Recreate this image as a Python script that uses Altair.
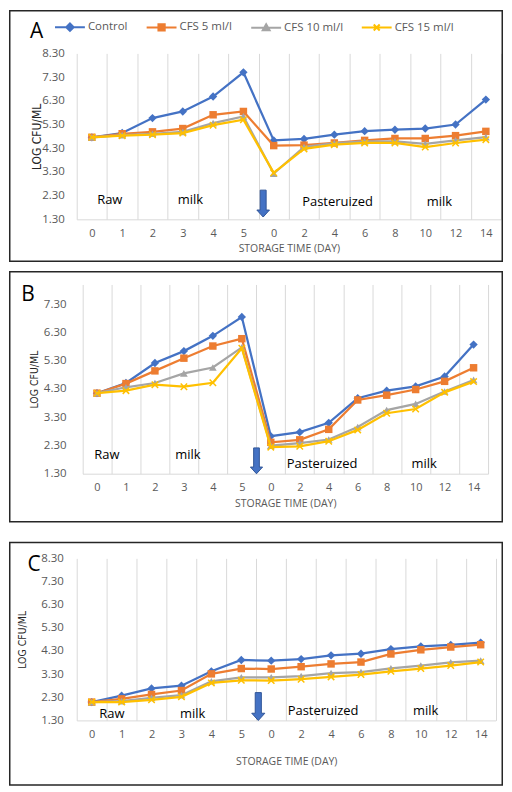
import altair as alt
import pandas as pd

# ---------------- data ----------------
series = ["Control", "CFS 5 ml/l", "CFS 10 ml/l", "CFS 15 ml/l"]
colors = ["#4472C4", "#ED7D31", "#A5A5A5", "#FFC000"]
day_labels = ["0", "1", "2", "3", "4", "5", "0", "2", "4", "6", "8", "10", "12", "14"]
y_ticks = [1.3, 2.3, 3.3, 4.3, 5.3, 6.3, 7.3, 8.3]
y_ticks_b = [1.3, 2.3, 3.3, 4.3, 5.3, 6.3, 7.3]

a_control = [4.76, 4.94, 5.57, 5.85, 6.48, 7.50, 4.63, 4.69, 4.87, 5.02, 5.08, 5.13, 5.30, 6.35]
a_cfs5 = [4.76, 4.91, 4.99, 5.13, 5.71, 5.85, 4.41, 4.43, 4.52, 4.63, 4.71, 4.71, 4.83, 5.01]
a_cfs10 = [4.76, 4.85, 4.91, 4.99, 5.36, 5.64, 3.23, 4.35, 4.52, 4.59, 4.59, 4.48, 4.63, 4.77]
a_cfs15 = [4.76, 4.83, 4.87, 4.94, 5.27, 5.50, 3.26, 4.27, 4.45, 4.52, 4.52, 4.35, 4.52, 4.66]

b_control = [4.15, 4.51, 5.22, 5.64, 6.18, 6.85, 2.63, 2.77, 3.10, 3.97, 4.24, 4.39, 4.74, 5.87]
b_cfs5 = [4.15, 4.49, 4.94, 5.39, 5.82, 6.08, 2.41, 2.50, 2.87, 3.91, 4.08, 4.28, 4.57, 5.05]
b_cfs10 = [4.15, 4.36, 4.51, 4.85, 5.06, 5.77, 2.29, 2.38, 2.51, 2.95, 3.55, 3.77, 4.21, 4.62]
b_cfs15 = [4.15, 4.24, 4.45, 4.38, 4.52, 5.74, 2.24, 2.27, 2.45, 2.85, 3.44, 3.59, 4.18, 4.56]

c_control = [2.09, 2.37, 2.68, 2.80, 3.42, 3.91, 3.88, 3.95, 4.11, 4.18, 4.38, 4.50, 4.56, 4.66]
c_cfs5 = [2.09, 2.23, 2.42, 2.59, 3.31, 3.54, 3.52, 3.62, 3.74, 3.82, 4.17, 4.35, 4.47, 4.57]
c_cfs10 = [2.09, 2.13, 2.27, 2.39, 2.99, 3.16, 3.16, 3.21, 3.34, 3.39, 3.55, 3.67, 3.81, 3.88]
c_cfs15 = [2.09, 2.09, 2.19, 2.32, 2.92, 3.03, 3.02, 3.08, 3.18, 3.28, 3.42, 3.54, 3.67, 3.82]

phase_texts = ["Raw", "milk", "Pasteruized", "milk"]

# ---------------- styles ----------------
FONT = "Open Sans"
NARROW = "Liberation Sans Narrow, DejaVu Sans Condensed, Roboto"
GRAY = "#595959"
GRID = "#D9D9D9"

X_PATH = "M-1,-1L1,1M-1,1L1,-1"
markers = [
    dict(shape="diamond", filled=True, size=70),
    dict(shape="square", filled=True, size=56),
    dict(shape="triangle-up", filled=True, size=60),
    dict(shape=X_PATH, filled=False, size=42, strokeWidth=1.5),
]
legend_paths = [
    "M-2,0H2M0,-0.5L0.5,0L0,0.5L-0.5,0Z",
    "M-2,0H2M-0.42,-0.42H0.42V0.42H-0.42Z",
    "M-2,0H2M0,-0.48L0.46,0.34H-0.46Z",
    "M-2,0H2M-0.4,-0.4L0.4,0.4M-0.4,0.4L0.4,-0.4",
]
ARROW = "M-0.22,-1H0.22V0.48H0.47L0,1L-0.47,0.48H-0.22Z"

one = alt.Data(values=[{"k": 0}])


def panel(vals, p, with_legend=False):
    rows = []
    for s, arr in zip(series, vals):
        for i, v in enumerate(arr):
            rows.append({"idx": i, "series": s, "value": v})
    df = pd.DataFrame(rows)
    base = alt.Chart(df)

    x = alt.X(
        "idx:O",
        bandPosition=0.5,
        scale=alt.Scale(
            type="band",
            domain=list(range(len(day_labels))),
            range=[p["x0"], p["W"]],
            paddingInner=0,
            paddingOuter=0,
        ),
        axis=alt.Axis(
            title="STORAGE TIME (DAY)",
            labelExpr=f"{day_labels}[datum.value]",
            labelAngle=0,
            ticks=False,
            tickSize=0,
            domain=True,
            domainColor=GRID,
            domainWidth=1,
            grid=True,
            gridColor=GRID,
            gridWidth=1,
            tickBand="extent",
            labelPadding=p["xlab_pad"],
            labelFont=FONT,
            labelFontSize=11,
            labelColor=GRAY,
            titleFont=FONT,
            titleFontSize=10.5,
            titleFontWeight="normal",
            titleColor=GRAY,
            titleX=(p["x0"] + p["W"]) / 2,
            titleY=p["xtitle_y"],
            titleBaseline="middle",
        ),
    )
    y = alt.Y(
        "value:Q",
        scale=alt.Scale(domain=[1.3, p["ymax"]], nice=False, zero=False),
        axis=alt.Axis(
            values=p["ticks"],
            format=".2f",
            grid=False,
            ticks=False,
            tickSize=0,
            domain=False,
            labelPadding=p["ylab_pad"],
            labelFont=FONT,
            labelFontSize=11.5,
            labelColor=GRAY,
            title="LOG CFU/ML",
            titleFont=NARROW,
            titleFontSize=p["ytitle_size"],
            titleFontWeight="normal",
            titleColor="#262626",
            titleAngle=270,
            titleX=p["ytitle_x"],
            titleY=p["H"] / 2,
            titleBaseline="middle",
        ),
    )

    cx0, cx1, cy0, cy1 = p["cell"]
    bx0, bx1, by0, by1 = p["border"]
    layers = [
        alt.Chart(one).mark_rect(opacity=0).encode(
            x=alt.value(cx0), x2=alt.value(cx1), y=alt.value(cy0), y2=alt.value(cy1)
        ),
        alt.Chart(one).mark_rect(fill="white", fillOpacity=0, stroke="#262626", strokeWidth=1.5).encode(
            x=alt.value(bx0), x2=alt.value(bx1), y=alt.value(by0), y2=alt.value(by1)
        ),
    ]
    for s, c, m in zip(series, colors, markers):
        sub = base.transform_filter(alt.datum.series == s)
        layers.append(sub.mark_line(color=c, strokeWidth=2.25).encode(x=x, y=y))
        layers.append(sub.mark_point(color=c, opacity=1, **m).encode(x=x, y=y))

    for t, (tx, ty) in zip(phase_texts, p["texts"]):
        layers.append(
            alt.Chart(one).mark_text(
                text=t, font=FONT, fontSize=13, color="#000000", align="center", baseline="alphabetic"
            ).encode(x=alt.value(tx), y=alt.value(ty))
        )
    ax, ay, ah = p["arrow"]
    layers.append(
        alt.Chart(one).mark_point(
            shape=ARROW, filled=True, fill="#4472C4", stroke="#2F5597", strokeWidth=1, size=ah * ah, opacity=1
        ).encode(x=alt.value(ax), y=alt.value(ay))
    )
    lt, lx, ly = p["letter"]
    layers.append(
        alt.Chart(one).mark_text(
            text=lt, font=FONT, fontSize=21, color="#000000", align="center", baseline="alphabetic"
        ).encode(x=alt.value(lx), y=alt.value(ly))
    )

    if with_legend:
        leg = alt.Legend(
            title=None,
            orient="none",
            legendX=p["legend"][0],
            legendY=p["legend"][1],
            direction="horizontal",
            symbolSize=225,
            symbolStrokeWidth=2,
            labelFont=FONT,
            labelFontSize=11.5,
            labelColor=GRAY,
            labelOffset=9.5,
            columnPadding=14,
            padding=0,
        )
        layers.append(
            base.transform_filter("false")
            .mark_point(opacity=1, size=225, strokeWidth=2)
            .encode(
                x=x,
                y=y,
                fill=alt.Fill("series:N", scale=alt.Scale(domain=series, range=colors), legend=leg),
                stroke=alt.Stroke("series:N", scale=alt.Scale(domain=series, range=colors), legend=leg),
                shape=alt.Shape("series:N", scale=alt.Scale(domain=series, range=legend_paths), legend=leg),
            )
        )

    return alt.layer(*layers).properties(width=p["W"], height=p["H"])


# all positions are relative to each panel's plot origin
pA = dict(
    W=426.0, H=166.6, x0=0, ymax=8.3, ticks=y_ticks,
    cell=(-68.0, 428.0, -43.45, 213.3), border=(-67.25, 427.25, -42.7, 208.8),
    letter=("A", -40.3, -15.0), ytitle_x=-40.8, ytitle_size=12, ylab_pad=12.5,
    xlab_pad=8.0, xtitle_y=29.0,
    texts=[(33.2, 151.6), (114.2, 151.6), (261.9, 153.3), (364.2, 153.3)],
    arrow=(187.2, 150.8, 27), legend=(-15.3, -35.2),
)
pB = dict(
    W=413.0, H=190.0, x0=5.8, ymax=8.0, ticks=y_ticks_b,
    cell=(-68.0, 428.0, -16.7, 248.3), border=(-67.25, 427.25, -12.7, 238.3),
    letter=("B", -48.8, 16.6), ytitle_x=-42.8, ytitle_size=10.5, ylab_pad=10.8,
    xlab_pad=8.0, xtitle_y=30.3,
    texts=[(30.2, 175.0), (111.7, 175.0), (246.4, 184.3), (348.9, 184.3)],
    arrow=(180.5, 177.1, 26),
)
pC = dict(
    W=420.6, H=162.7, x0=0, ymax=8.3, ticks=y_ticks,
    cell=(-68.0, 428.0, -25.0, 228.25), border=(-67.25, 427.25, -16.0, 227.5),
    letter=("C", -42.7, 12.7), ytitle_x=-54.4, ytitle_size=10.5, ylab_pad=13.5,
    xlab_pad=8.0, xtitle_y=41.3,
    texts=[(35.3, 160.0), (116.3, 160.0), (247.3, 157.3), (350.3, 157.3)],
    arrow=(182.3, 148.8, 28),
)

chartA = panel([a_control, a_cfs5, a_cfs10, a_cfs15], pA, with_legend=True)
chartB = panel([b_control, b_cfs5, b_cfs10, b_cfs15], pB)
chartC = panel([c_control, c_cfs5, c_cfs10, c_cfs15], pC)

chart = (
    alt.vconcat(chartA, chartB, chartC, spacing=0)
    .properties(padding=0, background="white")
    .configure_view(stroke="transparent")
)

chart.save("out.html", embed_options={"renderer": "svg", "actions": False})
